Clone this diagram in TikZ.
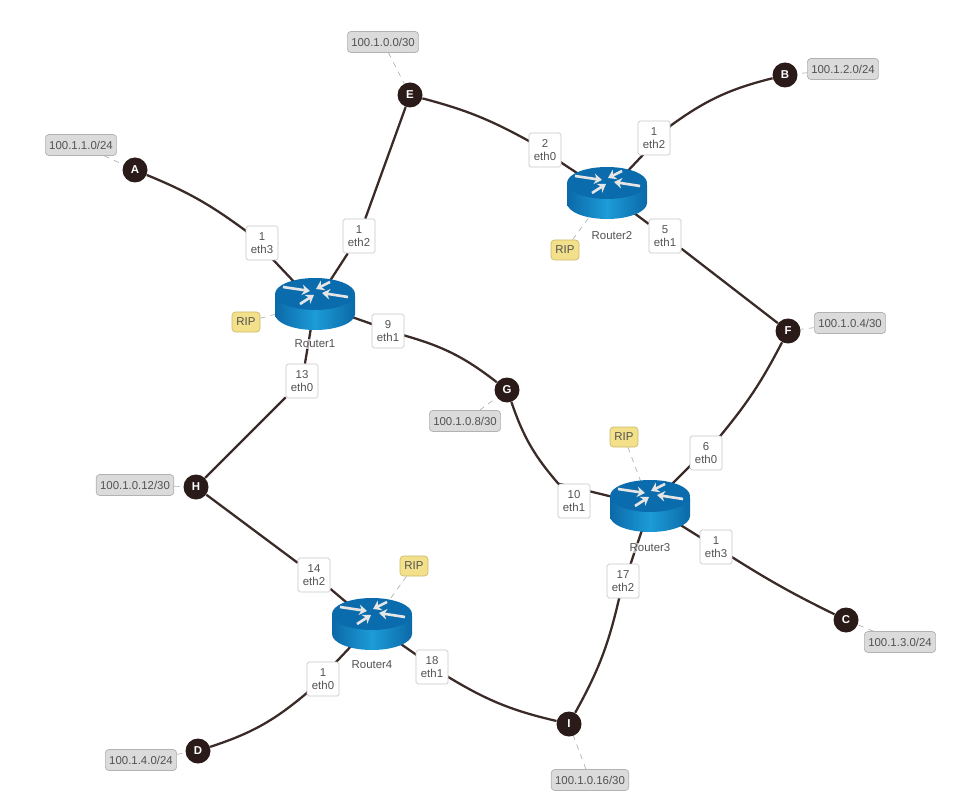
\documentclass[tikz,border=0pt]{standalone}
\usepackage{fontspec}
\setmainfont{Liberation Sans}
\usepackage{xcolor}
\usetikzlibrary{arrows.meta, backgrounds}
\definecolor{linkcol}{HTML}{3B2B28}
\definecolor{hostcol}{HTML}{2A1A18}
\definecolor{topcol}{HTML}{0A6CAD}
\definecolor{sideA}{HTML}{0C69A8}
\definecolor{sideB}{HTML}{1C9CD8}
\definecolor{ripfill}{HTML}{F2E08A}
\definecolor{ripdraw}{HTML}{CDBB6A}
\newcommand{\routericon}[1]{%
  \begin{scope}[shift={(#1)}, x=0.2mm, y=0.2mm]
    \shade[left color=sideA, right color=sideA, middle color=sideB]
      (-40,8) -- (-40,-10) arc[start angle=180, end angle=360, x radius=40, y radius=16]
      -- (40,8) arc[start angle=0, end angle=180, x radius=40, y radius=16] -- cycle;
    \fill[topcol] (0,10) ellipse[x radius=40, y radius=16];
    \draw[rarrow] (-32,17) -- (-5,13);
    \draw[rarrow] (15,22) -- (1,15);
    \draw[rarrow] (33,7) -- (7,11);
    \draw[rarrow] (-15,0) -- (-1,9);
  \end{scope}}
\begin{document}
\begin{tikzpicture}[
  x=0.2mm, y=-0.2mm,
  every node/.style={font=\fontsize{6.5}{7.4}\selectfont, text=black!68},
  hostnode/.style={circle, fill=hostcol, minimum size=5mm, inner sep=0pt,
                   text=white, font=\fontsize{6.5}{7}\selectfont\bfseries},
  ifbox/.style={rectangle, draw=black!22, fill=white, rounded corners=1pt,
                minimum width=6.4mm, minimum height=6.8mm, inner sep=0pt, align=center},
  netbox/.style={rectangle, draw=black!30, fill=black!14, rounded corners=2pt,
                 minimum height=4.2mm, inner xsep=2.2pt, inner ysep=0pt},
  ripbox/.style={rectangle, draw=ripdraw, fill=ripfill, rounded corners=2pt,
                 minimum width=5.6mm, minimum height=4mm, inner sep=0pt},
  routernode/.style={rectangle, minimum width=16mm, minimum height=10.4mm, inner sep=0pt},
  rtext/.style={fill=white, fill opacity=0.65, text opacity=1, inner sep=0.5pt},
  rarrow/.style={draw=white!90!black, line width=1.5pt, -{Stealth[length=4.5pt, width=6pt]}},
  linkline/.style={draw=linkcol, line width=1.3pt},
  dashline/.style={draw=black!30, dashed, line width=0.4pt},
]
  \useasboundingbox (0,0) rectangle (953,804);

  % routers
  \node[routernode] (R1) at (315,304) {};
  \node[routernode] (R2) at (607,193) {};
  \node[routernode] (R3) at (650,506) {};
  \node[routernode] (R4) at (372,624) {};

  % switches and hosts
  \node[hostnode] (A) at (135,170) {A};
  \node[hostnode] (B) at (785,75) {B};
  \node[hostnode] (C) at (846,620) {C};
  \node[hostnode] (D) at (198,751) {D};
  \node[hostnode] (E) at (410,95) {E};
  \node[hostnode] (F) at (788,331) {F};
  \node[hostnode] (G) at (507,390) {G};
  \node[hostnode] (H) at (196,487) {H};
  \node[hostnode] (I) at (569,724) {I};

  % interfaces
  \node[ifbox] (r1e3) at (262,243) {1\\eth3};
  \node[ifbox] (r1e2) at (359,236) {1\\eth2};
  \node[ifbox] (r1e1) at (388,331) {9\\eth1};
  \node[ifbox] (r1e0) at (302,381) {13\\eth0};
  \node[ifbox] (r2e0) at (545,150) {2\\eth0};
  \node[ifbox] (r2e2) at (654,138) {1\\eth2};
  \node[ifbox] (r2e1) at (665,236) {5\\eth1};
  \node[ifbox] (r3e0) at (706,453) {6\\eth0};
  \node[ifbox] (r3e1) at (574,501) {10\\eth1};
  \node[ifbox] (r3e3) at (716,547) {1\\eth3};
  \node[ifbox] (r3e2) at (623,581) {17\\eth2};
  \node[ifbox] (r4e2) at (314,575) {14\\eth2};
  \node[ifbox] (r4e0) at (323,679) {1\\eth0};
  \node[ifbox] (r4e1) at (432,667) {18\\eth1};

  % subnets
  \node[netbox] (nA) at (81,145) {100.1.1.0/24};
  \node[netbox] (nE) at (383,42) {100.1.0.0/30};
  \node[netbox] (nB) at (843,69) {100.1.2.0/24};
  \node[netbox] (nF) at (850,323) {100.1.0.4/30};
  \node[netbox] (nG) at (465,421) {100.1.0.8/30};
  \node[netbox] (nH) at (135,485) {100.1.0.12/30};
  \node[netbox] (nC) at (900,642) {100.1.3.0/24};
  \node[netbox] (nD) at (141,760) {100.1.4.0/24};
  \node[netbox] (nI) at (590,780) {100.1.0.16/30};

  % protocol tags
  \node[ripbox] (rip1) at (246,322) {RIP};
  \node[ripbox] (rip2) at (565,250) {RIP};
  \node[ripbox] (rip3) at (624,437) {RIP};
  \node[ripbox] (rip4) at (414,566) {RIP};

  \begin{scope}[on background layer]
    \draw[linkline] (A) to[bend left=7] (r1e3) -- (R1.center);
    \draw[linkline] (E) -- (r1e2) -- (R1.center);
    \draw[linkline] (G) to[bend right=11] (r1e1) -- (R1.center);
    \draw[linkline] (H) -- (r1e0) -- (R1.center);
    \draw[linkline] (E) to[bend left=7] (r2e0) -- (R2.center);
    \draw[linkline] (B) to[bend right=11] (r2e2) -- (R2.center);
    \draw[linkline] (F) -- (r2e1) -- (R2.center);
    \draw[linkline] (F) to[bend left=6] (r3e0) -- (R3.center);
    \draw[linkline] (G) to[bend right=11] (r3e1) -- (R3.center);
    \draw[linkline] (C) to[bend left=3] (r3e3) -- (R3.center);
    \draw[linkline] (I) to[bend right=8] (r3e2) -- (R3.center);
    \draw[linkline] (H) -- (r4e2) -- (R4.center);
    \draw[linkline] (D) to[bend right=11] (r4e0) -- (R4.center);
    \draw[linkline] (I) to[bend left=9] (r4e1) -- (R4.center);

    \draw[dashline] (nA) -- (A);
    \draw[dashline] (nE) -- (E);
    \draw[dashline] (nB) -- (B);
    \draw[dashline] (nF) -- (F);
    \draw[dashline] (nG) -- (G);
    \draw[dashline] (nH) -- (H);
    \draw[dashline] (nC) -- (C);
    \draw[dashline] (nD) -- (D);
    \draw[dashline] (nI) -- (I);
    \draw[dashline] (rip1) -- (R1.center);
    \draw[dashline] (rip2) -- (R2.center);
    \draw[dashline] (rip3) -- (R3.center);
    \draw[dashline] (rip4) -- (R4.center);
  \end{scope}

  \foreach \r in {R1,R2,R3,R4} {\routericon{\r}}

  \node[rtext] (t1) at (315,344) {Router1};
  \node[rtext] (t2) at (612,236) {Router2};
  \node[rtext] (t3) at (650,548) {Router3};
  \node[rtext] (t4) at (372,665) {Router4};
\end{tikzpicture}
\end{document}
